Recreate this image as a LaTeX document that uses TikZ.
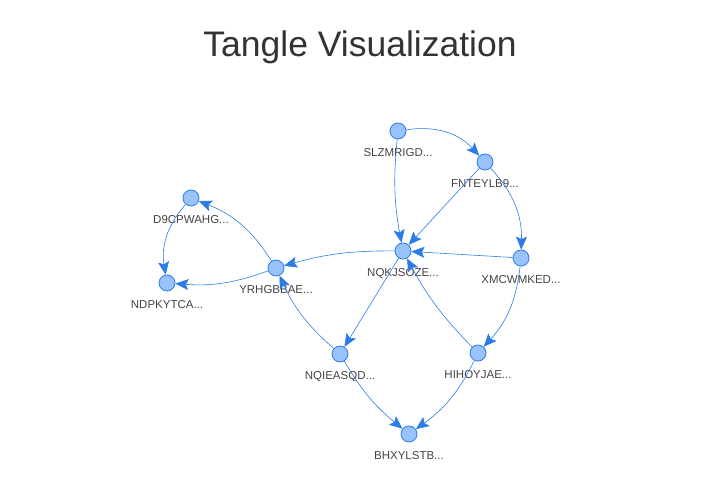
\documentclass[tikz,border=0pt]{standalone}
\usepackage{fontspec}
\setmainfont{Liberation Sans}
\usepackage{tikz}
\usetikzlibrary{positioning,arrows.meta}

\definecolor{nodefill}{HTML}{97C2FC}
\definecolor{nodeline}{HTML}{2B7CE9}
\definecolor{edgeblue}{HTML}{2B7CE9}
\definecolor{labelgray}{HTML}{444444}
\definecolor{titlegray}{HTML}{333333}

\begin{document}
\begin{tikzpicture}[
    x=1pt, y=1pt,
    dot/.style={circle, draw=nodeline, fill=nodefill, line width=0.8pt, minimum size=16pt, inner sep=0pt},
    lbl/.style={font=\fontsize{11.5}{12}\selectfont, text=labelgray, inner sep=0pt, label distance=9pt},
    arr/.style={-{Stealth[length=13pt, width=11pt, inset=2.5pt]}, draw=edgeblue, line width=0.6pt}
  ]
    \useasboundingbox (0,0) rectangle (707,485);
    \node[font=\fontsize{35.5}{40}\selectfont, text=titlegray, anchor=base] (title) at (360,428) {Tangle Visualization};

    \node[dot, label={[lbl]below:SLZMRIGD...}] (slz) at (398,354) {};
    \node[dot, label={[lbl]below:FNTEYLB9...}] (fnt) at (485,323) {};
    \node[dot, label={[lbl]below:D9CPWAHG...}] (d9c) at (191,287) {};
    \node[dot, label={[lbl]below:NQKJSOZE...}] (nqk) at (403,234) {};
    \node[dot, label={[lbl]below:XMCWMKED...}] (xmc) at (521,227) {};
    \node[dot, label={[lbl]below:NDPKYTCA...}] (ndp) at (167,202) {};
    \node[dot, label={[lbl]below:YRHGBBAE...}] (yrh) at (276,217) {};
    \node[dot, label={[lbl]below:NQIEASQD...}] (nqi) at (340,131) {};
    \node[dot, label={[lbl]below:HIHOYJAE...}] (hih) at (478,132) {};
    \node[dot, label={[lbl]below:BHXYLSTB...}] (bhx) at (409,51) {};

    \draw[arr] (slz) to[bend left=28] (fnt);
    \draw[arr] (slz) to[bend right=8] (nqk);
    \draw[arr] (fnt) -- (nqk);
    \draw[arr] (fnt) to[bend left=22] (xmc);
    \draw[arr] (xmc) -- (nqk);
    \draw[arr] (nqk) to[bend right=8] (yrh);
    \draw[arr] (yrh) to[bend right=18] (d9c);
    \draw[arr] (yrh) to[bend left=12] (ndp);
    \draw[arr] (d9c) to[bend right=25] (ndp);
    \draw[arr] (nqk) -- (nqi);
    \draw[arr] (nqi) to[bend left=12] (yrh);
    \draw[arr] (hih) to[bend left=8] (nqk);
    \draw[arr] (xmc) to[bend left=18] (hih);
    \draw[arr] (nqi) to[bend right=10] (bhx);
    \draw[arr] (hih) to[bend left=14] (bhx);
  \end{tikzpicture}
\end{document}
